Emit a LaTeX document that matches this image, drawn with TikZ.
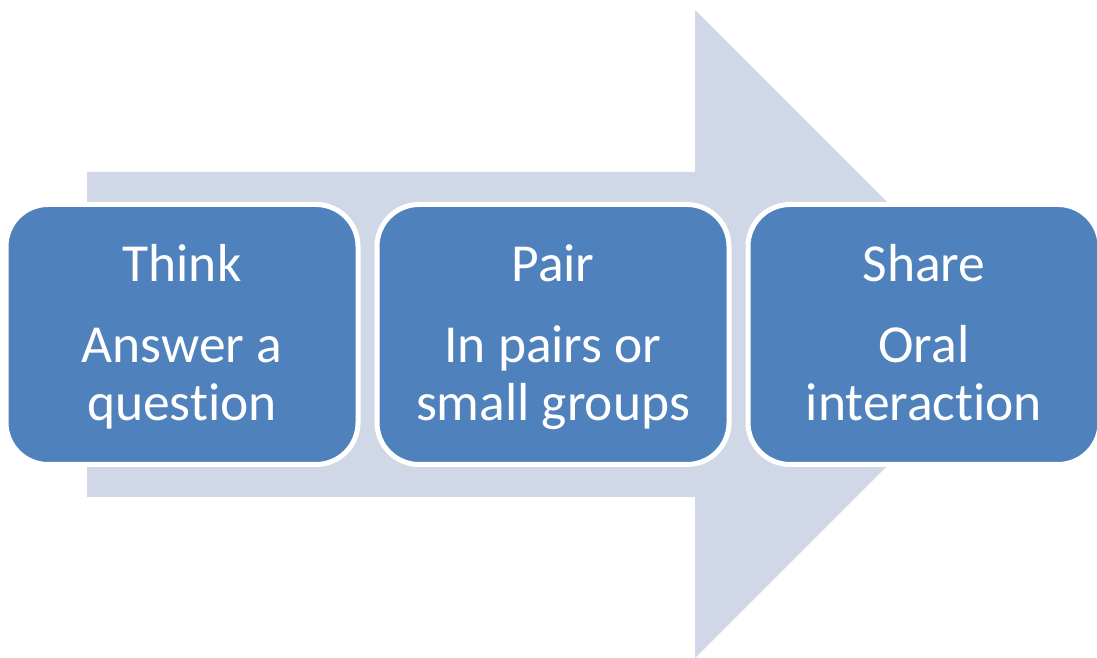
\documentclass[tikz,border=0pt]{standalone}
\usepackage{fontspec}
\setmainfont{Carlito}[Ligatures=NoCommon]
\usetikzlibrary{positioning}
\definecolor{boxblue}{HTML}{4F81BD}
\definecolor{arrowgrey}{HTML}{D0D8E8}
\tikzset{
  stepcard/.style={draw=white,line width=5pt,fill=boxblue,rounded corners=42pt,
    minimum width=352pt,minimum height=260pt},
  cardtext/.style={text=white,align=center,inner sep=0pt,
    font=\fontsize{53.5}{58}\selectfont}
}
\begin{document}
\begin{tikzpicture}[x=1pt,y=1pt]
\useasboundingbox (0,0) rectangle (1097,658);
\fill[arrowgrey] (87,161) -- (695,161) -- (695,0) -- (1019,324) -- (695,648) -- (695,486) -- (87,486) -- cycle;
\node[stepcard] (think) at (182,323.5) {};
\node[stepcard] (pair) at (553,323.5) {};
\node[stepcard] (share) at (924,323.5) {};
\node[cardtext] (thinktext) at (182,319) {\strut Think\\[23pt]Answer a\\question\strut};
\node[cardtext] (pairtext) at (553,319) {\strut Pair\\[23pt]In pairs or\\small groups\strut};
\node[cardtext] (sharetext) at (924,319) {\strut Share\\[23pt]Oral\\interaction\strut};
\end{tikzpicture}
\end{document}
